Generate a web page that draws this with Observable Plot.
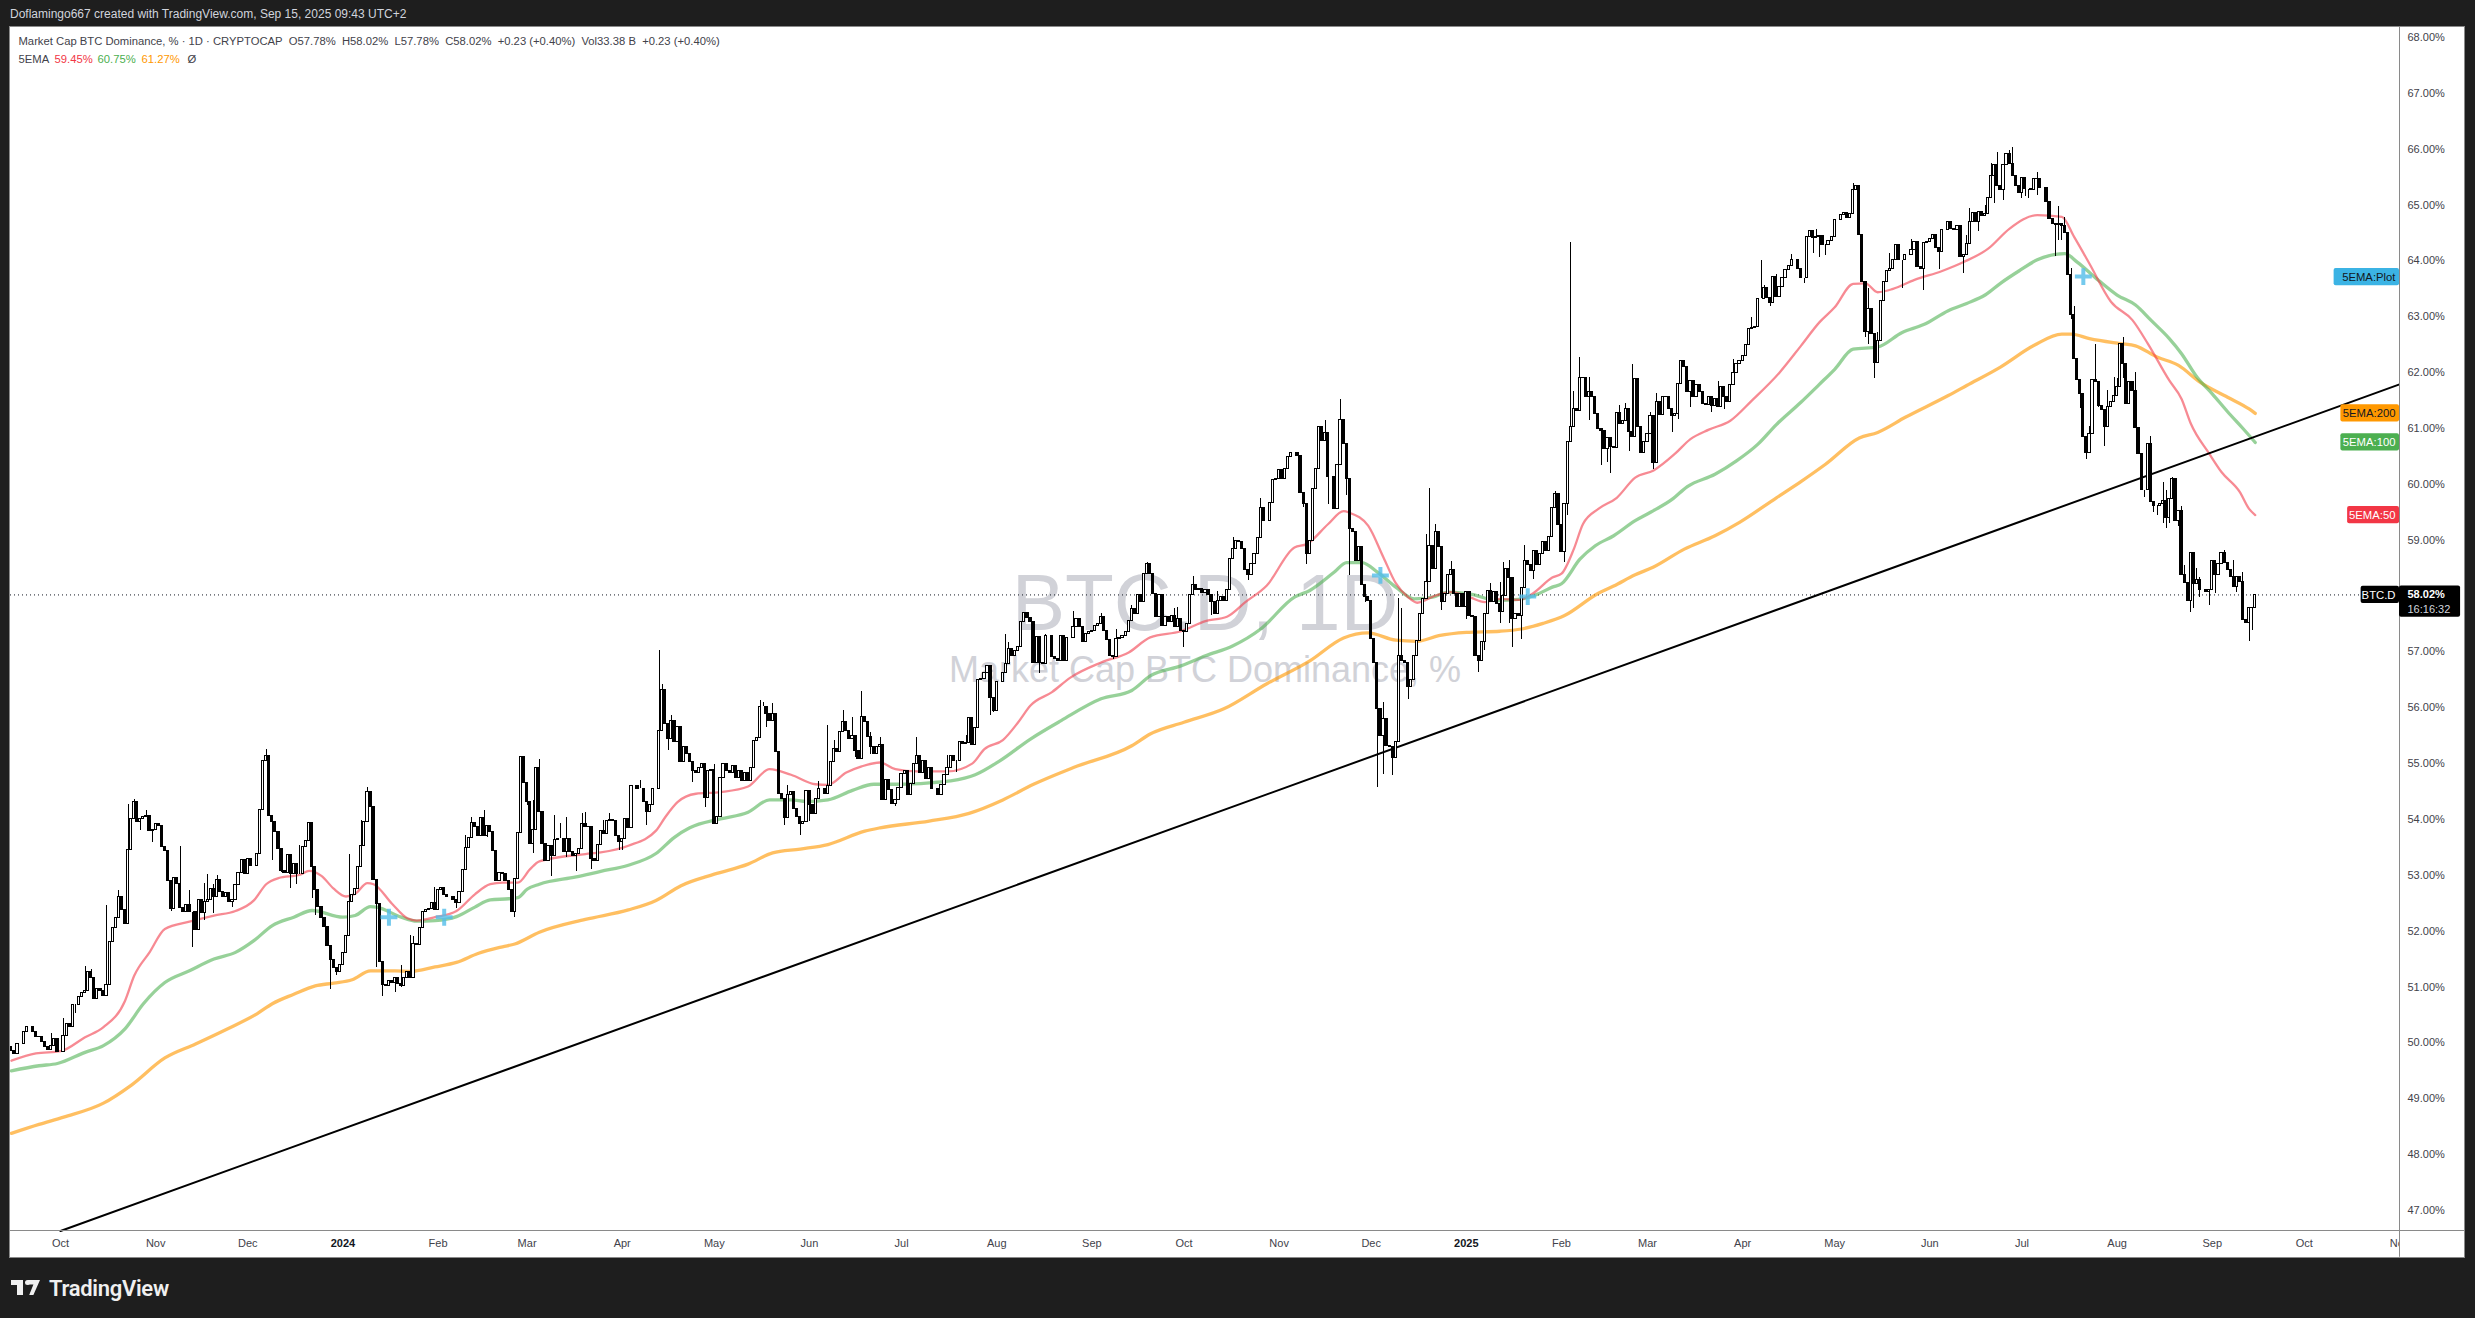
<!DOCTYPE html>
<html><head><meta charset="utf-8">
<style>
html,body{margin:0;padding:0;background:#1e1e1e;width:2475px;height:1318px;overflow:hidden;font-family:"Liberation Sans",Arial,sans-serif}
#head{position:absolute;left:10px;top:7px;color:#d1d4dc;font-size:12px;line-height:14px;white-space:nowrap}
#chart{position:absolute;left:10px;top:27px}
#chart svg{display:block;outline:1px solid #8a8a8a}
#brand{position:absolute;left:49px;top:1277px;color:#f0f0f0;font:600 22px/24px Roboto,"Liberation Sans",sans-serif;letter-spacing:-.3px}
.lg{position:absolute;background:#f0f0f0}
</style></head><body>
<div id="head">Doflamingo667 created with TradingView.com, Sep 15, 2025 09:43 UTC+2</div>
<div id="chart"></div>
<div class="lg" style="left:11px;top:1280px;width:12px;height:5px"></div>
<div class="lg" style="left:17px;top:1280px;width:6px;height:15px"></div>
<div class="lg" style="left:28px;top:1280px;width:12px;height:15px;clip-path:polygon(0 0,100% 0,45% 100%,10% 100%,45% 30%,0 30%)"></div>
<div class="lg" style="left:25px;top:1280px;width:5px;height:5px;border-radius:50%"></div>
<div id="brand">TradingView</div>
<script src="https://cdn.jsdelivr.net/npm/d3@7"></script>
<script src="https://cdn.jsdelivr.net/npm/@observablehq/plot@0.6"></script>
<script>
const closesA=[49.86,49.80,49.98,49.98,50.19,50.28,50.28,50.19,50.11,50.10,50.01,49.92,49.87,49.95,50.07,49.83,49.83,50.13,50.34,50.28,50.68,50.68,50.82,50.90,50.92,51.26,51.17,50.78,50.96,50.93,50.83,51.04,
51.80,52.06,52.24,52.61,52.38,52.12,53.45,54.01,54.31,53.95,54.01,54.04,54.07,53.80,53.81,53.92,53.89,53.51,53.43,52.90,52.40,52.96,52.84,52.41,52.34,52.46,52.34,52.34,52.02,52.55,52.32,52.52,52.56,52.76,52.61,52.92,52.70,52.61,52.68,52.53,52.55,52.83,53.05,53.27,53.02,53.29,53.16,53.16,53.38,54.17,55.05,55.13,54.07,53.95,53.77,53.47,53.08,53.05,53.37,53.02,53.20,53.02,53.02,53.51,53.61,53.93,53.14,52.74,52.44,52.24,52.07,51.74,51.48,51.34,51.26,51.39,51.61,51.92,52.52,52.65,52.76,53.14,53.53,53.95,54.50,54.23,52.92,52.49,51.44,51.04,51.02,51.11,51.08,51.17,51.05,51.01,51.17,51.26,51.17,51.77,51.76,52.06,52.34,52.37,52.40,52.50,52.37,52.74,52.77,52.65,52.61,52.61,52.56,52.50,52.70,53.10,53.49,53.67,53.93,53.86,53.71,54.03,53.71,53.89,53.77,53.44,52.90,53.04];
const closesB=[53.02,52.90,52.74,52.34,52.93,53.75,55.12,54.66,54.31,53.56,53.81,54.92,54.13,53.56,53.26,53.53,53.35,53.63,53.65,53.65,53.41,53.65,53.41,53.35,53.38,53.47,53.91,53.86,53.87,53.29,53.25,53.55,53.79,53.74,53.98,53.99,53.98,53.71,53.59,53.65,54.00,53.85,54.60,54.60,54.55,54.55,54.31,54.13,54.25,54.55,54.55,55.58,56.31,55.71,55.44,55.76,55.38,55.65,55.02,55.29,55.17,55.02,54.86,54.84,54.93,54.99,54.38,54.87,54.89,53.92,54.04,54.75,55.00,54.87,54.84,54.96,54.75,54.87,54.69,54.84,54.68,54.93,55.40,55.46,56.02,56.02,55.89,55.76,55.89,55.20,54.46,54.37,54.03,54.44,54.49,54.19,54.04,53.91,53.95,54.51,54.26,54.10,54.37,54.55,54.55,54.46,54.60,55.02,55.26,55.20,55.56,55.74,55.59,55.44,55.50,55.23,55.08,55.84,55.74,55.47,55.30,55.17,55.30,55.34,54.35,54.71,54.52,54.28,54.34,54.57,54.81,54.87,54.43,54.63,55.00,55.14,54.84,55.05,54.72,54.93,54.55,54.55,54.43,54.61,54.80,54.93,55.14,55.05,55.05,55.38,55.35,55.36,55.82,55.34,55.64,56.50,56.52,56.63,56.75,56.17,55.95,56.46];
const closesC=[56.46,56.63,56.78,57.05,56.93,57.02,57.09,57.53,57.69,57.61,57.53,56.81,57.27,56.81,56.78,57.29,57.29,56.90,56.87,56.84,57.29,56.84,57.25,57.25,57.44,57.59,57.44,57.17,57.32,57.35,57.38,57.47,57.50,57.62,57.37,57.21,56.92,56.90,57.23,57.24,57.29,57.35,57.56,57.77,57.68,58.01,57.89,58.40,58.57,58.40,58.03,57.62,58.01,57.47,57.62,57.53,57.65,57.44,57.59,57.38,57.35,57.50,58.01,58.19,58.10,58.13,58.05,58.10,58.01,57.89,57.68,57.92,57.98,57.92,58.10,58.66,58.84,58.99,58.96,58.84,58.46,58.37,58.57,58.75,59.04,59.58,59.35,59.35,59.66,60.07,60.10,60.25,60.10,60.28,60.49,60.56,60.56,60.51,59.84,59.65,58.75,58.99,59.92,60.28,61.03,60.78,60.92,60.14,60.14,59.56,60.34,61.16,60.72,60.10,59.20,59.14,58.63,58.87,58.19,57.98,57.92,57.23,56.81,55.98,55.50,55.80,55.32,55.29,55.10,55.38,56.93,56.84,56.81,56.37,56.49,56.93,57.19,57.68,57.95,58.25,58.89,58.49,59.14,58.87,57.89,58.04,58.37,58.46,58.04,57.80,58.04,57.80,58.07,57.65,57.62,56.93,56.84,57.17,57.68,58.09,57.89,58.07,57.86,57.71];
const closesD=[58.00,58.48,58.33,57.59,57.68,57.65,58.15,58.63,58.56,58.45,58.81,58.56,58.75,58.96,58.81,59.06,59.57,59.82,59.28,58.78,59.65,60.75,61.03,61.35,61.32,61.90,61.91,61.56,61.65,61.56,61.26,60.99,60.96,60.63,60.83,60.66,60.65,61.27,61.08,61.14,61.35,60.93,60.84,61.88,61.02,60.57,60.75,60.90,61.23,60.39,61.47,61.24,61.57,61.56,61.35,61.23,61.26,61.79,62.21,62.11,61.65,61.85,61.56,61.77,61.66,61.44,61.42,61.56,61.41,61.53,61.39,61.75,61.56,61.47,61.77,61.99,62.15,62.21,62.30,62.50,62.78,62.80,62.81,63.32,63.32,63.51,63.33,63.24,63.72,63.35,63.53,63.69,63.84,63.91,64.02,64.02,63.85,63.69,63.69,64.43,64.54,64.41,64.42,64.45,64.29,64.29,64.36,64.42,
64.73,64.73,64.83,64.86,64.77,64.84,65.27,65.35,64.46,63.62,62.72,63.14,62.69,62.17,62.57,63.29,63.62,63.82,
63.86,64.01,64.28,64.01,64.01,64.10,64.10,64.20,64.34,63.89,63.86,
64.32,64.34,64.40,64.46,64.24,64.16,64.56,64.56,64.70,64.58,64.56,64.62,64.07,64.10,64.31,64.70,64.86,64.70,64.87,64.81,64.84,
65.12,65.52,65.71,65.34,65.27,65.71,65.91,65.74,65.53,65.35,65.21,65.49,65.28,65.28,65.27,65.47,65.46,65.30,65.30,65.06,64.76,64.66,64.64,64.66,64.62,64.50,63.74,
63.03,62.25,61.86,61.62,60.85,60.56,60.91,61.87,61.83,61.41,61.33,61.03,61.39,61.48,61.59,61.74,62.51,62.16,61.43,61.83,61.68,61.01,60.55,59.89,59.89,60.73,59.68,59.62,59.62,59.65,59.71,59.39,59.74,60.10,59.35,59.53,58.37,58.23,57.92,58.77,58.21,58.28,58.11,58.11,58.07,58.11,58.63,58.37,58.58,58.77,58.59,58.46,58.34,58.17,58.34,58.25,57.58,57.52,57.79,57.78,58.02];

const wickHighs=[[13,50.16],[17,50.43],[24,51.36],[26,51.32],[31,52.46],[35,52.73],[38,54.27],[40,54.35],[44,54.16],[55,53.51],[58,52.73],[63,52.86],[64,53.02],[66,52.84],[67,52.99],[74,52.93],[83,55.26],[94,53.53],[110,53.37],[114,53.99],[116,54.58],[118,53.08],[127,51.39],[130,51.92],[131,51.90],[138,52.79],[148,53.71],[150,54.03],[154,54.16],
[170,54.34],[172,55.08],[177,54.07],[179,53.92],[181,54.04],[186,54.11],[187,54.13],[193,53.98],[195,54.11],[202,54.19],[205,54.69],[211,57.03],[212,56.41],[215,55.86],[229,54.98],[244,56.13],[245,56.10],[248,56.07],[253,54.60],[263,54.68],[266,55.68],[268,55.41],[271,55.95],[274,55.83],[277,56.29],[280,55.56],[283,55.46],[295,55.46],[296,55.14],[305,55.14],[311,55.50],
[324,57.32],[325,57.17],[330,57.71],[337,57.32],[346,57.73],[355,57.69],[360,57.41],[365,57.83],[370,58.60],[379,57.77],[380,57.80],[385,58.35],[393,58.09],[398,59.04],[401,58.96],[407,59.74],[420,60.01],[428,61.15],[433,61.52],[447,56.10],[452,57.95],[453,57.77],[461,59.10],[462,59.92],[464,59.29],[469,58.62],[482,58.23],[485,58.25],
[486,58.60],[488,58.64],[493,58.90],[502,59.08],[503,59.88],[508,64.33],[509,61.67],[511,62.27],[514,61.91],[524,61.42],[526,61.45],[528,62.14],[534,61.29],[536,61.62],[549,61.79],[556,61.85],[561,62.24],[567,62.99],[570,64.00],[571,63.56],[575,63.76],[580,64.12],[581,64.02],[588,64.57],[600,65.38],[603,63.85],[605,63.50],[608,62.72],[612,64.13],[619,64.39],
[637,64.46],[638,64.94],[643,65.00],[645,65.74],[647,65.94],[651,65.98],[652,66.04],[660,65.59],[667,64.98],[669,64.78],[671,63.86],[672,63.18],[677,61.03],[679,62.50],[683,61.68],[685,61.92],[686,61.89],[687,62.29],[688,62.63],[692,62.01],[697,60.85],[701,60.04],[702,59.89],[704,60.12],[707,59.61],[708,58.55],[712,58.49],[713,58.34],[721,58.81],[724,58.64],[727,58.43]];

const wickLows=[[21,50.53],[42,53.80],[46,53.59],[52,52.35],[59,51.71],[63,52.19],[66,52.31],[72,52.43],[85,53.26],[88,53.05],[91,52.77],[93,52.84],[98,52.58],[99,52.28],[104,50.95],[106,51.20],[110,52.24],[119,51.35],[121,50.83],[125,50.90],[127,50.99],[145,52.40],[155,53.68],
[164,52.25],[168,54.25],[170,53.39],[176,52.98],[181,53.32],[184,53.07],[189,53.11],[198,53.44],[199,53.44],[207,53.89],[214,55.24],[222,54.66],[226,54.22],[246,55.64],[252,53.89],[257,53.71],[260,53.97],[275,55.11],[280,55.17],[283,54.34],[288,54.23],[308,54.84],[319,55.87],[320,55.92],
[335,56.62],[359,56.87],[382,57.08],[391,57.65],[403,58.28],[421,59.59],[422,58.57],[429,59.64],[431,59.62],[435,59.80],[436,58.37],[441,57.89],[445,54.57],[447,54.81],[450,54.78],[455,56.14],[466,57.74],[474,57.58],[478,56.63],[480,57.02],[485,57.51],
[488,57.50],[489,57.08],[492,57.23],[496,58.30],[506,58.60],[507,59.44],[509,61.14],[514,61.14],[518,60.33],[520,60.39],[521,60.19],[527,60.59],[532,60.75],[535,60.27],[541,60.93],[543,61.17],[547,61.38],[554,61.29],[558,61.34],[573,63.18],[584,63.60],[587,64.14],[589,64.06],[591,64.09],[604,62.63],[605,62.51],[607,61.90],[616,63.50],[623,63.47],[628,63.85],[636,63.77],
[641,64.52],[646,65.03],[649,65.09],[655,65.12],[656,65.15],[657,65.12],[660,65.18],[666,64.08],[667,64.37],[668,64.37],[671,62.95],[674,61.35],[676,60.44],[680,61.38],[682,60.67],[688,61.89],[694,60.43],[695,59.77],[698,59.50],[699,59.44],[701,59.30],[702,59.21],[703,59.30],[706,59.24],[710,57.70],[711,57.77],[713,57.98],[716,57.83],[718,58.04],[725,58.07],[729,57.18],[730,57.39]];

const ema50=[[0,49.68],[8,49.81],[16,49.85],[24,50.10],[30,50.28],[37,50.75],[40,51.20],[45,51.62],[50,52.04],[58,52.17],[66,52.28],[73,52.36],[79,52.55],[83,52.84],[87,52.95],[94,53.01],[97,53.08],[101,52.99],[105,52.76],[109,52.62],[112,52.67],[116,52.86],[118,52.84],[124,52.49],[129,52.23],[132,52.19],[138,52.25],[145,52.36],[151,52.66],[156,52.84],[160,52.87],[165,52.87],[169,53.11],[172,53.25],[187,53.38],[192,53.41],[201,53.53],[210,53.80],[213,54.04],[217,54.31],[223,54.46],[231,54.49],[240,54.59],[247,54.90],[254,54.80],[262,54.63],[266,54.62],[272,54.84],[277,54.95],[283,55.02],[288,54.90],[295,54.86],[305,54.86],[313,55.00],[317,55.26],[323,55.42],[328,55.74],[332,56.04],[339,56.28],[345,56.54],[355,56.81],[364,56.99],[371,57.26],[381,57.37],[389,57.55],[396,57.63],[402,57.89],[409,58.19],[418,58.87],[422,58.93],[429,59.29],[434,59.52],[436,59.49],[442,59.26],[447,58.69],[451,58.23],[455,57.98],[458,57.88],[464,58.01],[469,58.07],[475,57.98],[480,57.89],[485,57.95],[491,57.93],[496,58.06],[502,58.33],[505,58.40],[509,58.84],[512,59.29],[517,59.56],[523,59.76],[529,60.12],[535,60.25],[542,60.55],[547,60.81],[553,60.98],[560,61.14],[567,61.50],[576,62.00],[583,62.48],[589,62.90],[594,63.17],[600,63.59],[604,63.60],[608,63.44],[613,63.50],[620,63.66],[629,63.82],[636,63.98],[644,64.22],[651,64.58],[660,64.82],[668,64.79],[672,64.43],[677,63.95],[684,63.27],[691,62.94],[696,62.52],[703,61.86],[707,61.53],[710,61.09],[716,60.55],[720,60.22],[726,59.86],[729,59.56],[731,59.45]];
const ema100=[[0,49.50],[9,49.59],[15,49.63],[24,49.83],[30,49.95],[37,50.25],[43,50.70],[50,51.08],[58,51.29],[66,51.50],[73,51.62],[79,51.83],[85,52.10],[92,52.25],[98,52.37],[108,52.25],[112,52.28],[117,52.44],[119,52.43],[127,52.25],[132,52.18],[138,52.19],[145,52.26],[151,52.43],[156,52.56],[162,52.58],[165,52.60],[168,52.75],[172,52.84],[184,52.97],[192,53.07],[201,53.18],[210,53.39],[216,53.68],[221,53.85],[231,54.01],[240,54.13],[247,54.35],[254,54.35],[259,54.32],[266,54.35],[274,54.52],[281,54.63],[290,54.63],[300,54.66],[306,54.69],[314,54.80],[322,55.05],[332,55.44],[342,55.77],[355,56.16],[365,56.31],[371,56.57],[381,56.75],[389,56.93],[398,57.11],[407,57.41],[418,57.98],[423,58.10],[431,58.43],[435,58.60],[440,58.60],[445,58.43],[451,58.16],[457,57.95],[463,57.98],[468,58.07],[475,58.04],[484,57.92],[491,57.94],[497,58.03],[502,58.16],[505,58.22],[511,58.66],[516,58.90],[522,59.08],[529,59.35],[534,59.50],[541,59.73],[546,59.96],[555,60.18],[562,60.42],[569,60.72],[575,61.07],[583,61.47],[589,61.79],[594,62.06],[600,62.42],[608,62.46],[616,62.72],[623,62.86],[631,63.11],[637,63.24],[643,63.39],[648,63.60],[654,63.82],[660,64.02],[669,64.13],[673,63.98],[680,63.65],[686,63.39],[692,63.21],[697,62.94],[703,62.61],[707,62.34],[712,61.92],[717,61.62],[722,61.30],[727,61.00],[731,60.75]];
const ema200=[[0,48.38],[9,48.54],[17,48.67],[30,48.92],[39,49.24],[50,49.73],[60,49.98],[70,50.24],[80,50.52],[85,50.70],[92,50.87],[99,51.02],[105,51.07],[111,51.13],[117,51.29],[125,51.29],[130,51.28],[138,51.36],[145,51.44],[152,51.60],[160,51.72],[164,51.77],[172,51.98],[187,52.21],[201,52.38],[210,52.55],[218,52.81],[229,53.02],[240,53.20],[248,53.40],[257,53.47],[266,53.55],[278,53.79],[283,53.85],[299,53.97],[312,54.11],[323,54.35],[333,54.63],[346,54.93],[365,55.32],[371,55.53],[382,55.74],[395,55.98],[409,56.43],[423,56.84],[434,57.25],[442,57.34],[451,57.21],[458,57.19],[465,57.29],[474,57.35],[485,57.37],[492,57.41],[499,57.51],[506,57.65],[517,58.05],[522,58.18],[529,58.38],[535,58.52],[545,58.84],[555,59.08],[563,59.32],[575,59.76],[583,60.05],[591,60.36],[602,60.83],[608,60.93],[617,61.20],[631,61.59],[637,61.77],[648,62.10],[659,62.49],[668,62.69],[671,62.69],[677,62.61],[687,62.52],[692,62.48],[699,62.28],[706,62.13],[713,61.83],[722,61.56],[729,61.35],[731,61.27]];
const crossDates=["2024-01-16","2024-02-03","2024-12-04","2025-01-21","2025-07-21"];
const crossValues=[52.25,52.25,58.37,57.99,63.72];
const trendDates=["2023-10-01","2025-11-01"];
const trendValues=[46.63,61.79];
const monthTicks=["2023-10-01","2023-11-01","2023-12-01","2024-02-01","2024-03-01","2024-04-01","2024-05-01","2024-06-01","2024-07-01","2024-08-01","2024-09-01","2024-10-01","2024-11-01","2024-12-01","2025-02-01","2025-03-01","2025-04-01","2025-05-01","2025-06-01","2025-07-01","2025-08-01","2025-09-01","2025-10-01","2025-11-01"];
const yearTicks=["2024-01-01","2025-01-01"];
const priceTicks=d3.range(47,69);
const tagNames=["5EMA:Plot","5EMA:200","5EMA:100","5EMA:50","BTC.D"];
const tagValues=[63.71,61.27,60.75,59.45,58.02];
const tagColors=["#3bb3e4","#ff9800","#4caf50","#f23645","#000000"];
const tagInks=["#131722","#131722","#ffffff","#ffffff","#ffffff"];
const title1="Market Cap BTC Dominance, % · 1D · CRYPTOCAP\u00a0\u00a0O57.78%\u00a0\u00a0H58.02%\u00a0\u00a0L57.78%\u00a0\u00a0C58.02%\u00a0\u00a0+0.23 (+0.40%)\u00a0\u00a0Vol33.38 B\u00a0\u00a0+0.23 (+0.40%)";
const legendNames=["5EMA","59.45%","60.75%","61.27%","Ø"];
const legendInks=["#42424a","#f23645","#4caf50","#ff9800","#42424a"];

const DAY=864e5;
const utc=s=>new Date(s+"T00:00:00Z");
const start=utc("2023-09-15");
const dayOf=i=>new Date(+start+i*DAY);
const closes=[...closesA,...closesB,...closesC,...closesD];
const hi=new Map(wickHighs), lo=new Map(wickLows);
const candles=closes.map((c,i)=>{
  const o=i?closes[i-1]:c+0.06;
  return {d:dayOf(i),o,c,h:Math.max(o,c,hi.get(i)??-1),l:Math.min(o,c,lo.get(i)??99),up:c>=o};
});
const emaRows=a=>a.map(([i,v])=>({d:dayOf(i),v}));
const leftEdge=new Date(+utc("2023-10-01")-16.29*DAY), rightEdge=utc("2025-11-01");
const farRight=new Date(+rightEdge+21.2*DAY);
const yTop=68.18,yBottom=46.64,yFloor=46.16;
const tags=tagNames.map((n,i)=>({n,v:tagValues[i],c:tagColors[i],ink:tagInks[i],x1:new Date(+rightEdge-(2.2*n.length+1.5)*DAY)}));
const font="Liberation Sans";
const legendGaps=[8,44,87,131,177];
const chart=Plot.plot({
  width:2454,height:1230,marginLeft:0,marginRight:65,marginTop:0,marginBottom:27,
  style:{background:"#ffffff",fontFamily:font},
  x:{type:"utc",domain:[leftEdge,rightEdge],label:null},
  y:{domain:[yBottom,yTop],label:null},
  marks:[
    Plot.text(["BTC.D, 1D"],{frameAnchor:"middle",dy:-25,text:d=>d,fontSize:80,fill:"#d1d2d8",fontFamily:font}),
    Plot.text(["Market Cap BTC Dominance, %"],{frameAnchor:"middle",dy:41,text:d=>d,fontSize:36,fill:"#d1d2d8",fontFamily:font}),
    Plot.ruleY([58.02],{x1:leftEdge,x2:tags[4].x1,stroke:"#131722",strokeWidth:1,strokeDasharray:"1,3"}),
    Plot.line(emaRows(ema200),{x:"d",y:"v",stroke:"#ff9800",strokeOpacity:.62,strokeWidth:3.3,curve:"monotone-x"}),
    Plot.line(emaRows(ema100),{x:"d",y:"v",stroke:"#4caf50",strokeOpacity:.58,strokeWidth:3.3,curve:"monotone-x"}),
    Plot.line(emaRows(ema50),{x:"d",y:"v",stroke:"#f23645",strokeOpacity:.58,strokeWidth:2.3,curve:"monotone-x"}),
    Plot.line(trendDates.map((d,i)=>({d:utc(d),v:trendValues[i]})),{x:"d",y:"v",stroke:"#000000",strokeWidth:2}),
    Plot.ruleX(candles,{x:"d",y1:"l",y2:"h",stroke:"#000000",strokeWidth:1,shapeRendering:"crispEdges"}),
    Plot.rect(candles,{x1:d=>new Date(+d.d-.36*DAY),x2:d=>new Date(+d.d+.36*DAY),y1:"o",y2:"c",fill:d=>d.up?"#ffffff":"#000000",stroke:"#000000",strokeWidth:1,shapeRendering:"crispEdges"}),
    Plot.dot(crossDates.map((d,i)=>({d:utc(d),v:crossValues[i]})),{x:"d",y:"v",symbol:"plus",r:5.5,stroke:"#52bde8",strokeOpacity:.8,strokeWidth:4}),
    Plot.axisX(monthTicks.map(utc),{anchor:"bottom",tickSize:0,tickPadding:9,fontSize:11,fill:"#42424a",tickFormat:d3.utcFormat("%b"),label:null,fontFamily:font}),
    Plot.axisX(yearTicks.map(utc),{anchor:"bottom",tickSize:0,tickPadding:9,fontSize:11,fill:"#131722",fontWeight:"bold",tickFormat:d3.utcFormat("%Y"),label:null,fontFamily:font}),
    Plot.rect([0],{x1:rightEdge,x2:farRight,y1:yFloor,y2:yTop,fill:"#ffffff"}),
    Plot.ruleY([yBottom],{x1:leftEdge,x2:farRight,stroke:"#8a8a8a",strokeWidth:1}),
    Plot.ruleX([rightEdge],{y1:yFloor,y2:yTop,stroke:"#8a8a8a",strokeWidth:1}),
    Plot.axisY(priceTicks,{anchor:"right",tickSize:0,tickPadding:8,fontSize:11,fill:"#42424a",tickFormat:d=>d.toFixed(2)+"%",label:null,fontFamily:font}),
    Plot.rect(tags,{x1:"x1",x2:rightEdge,y1:d=>d.v-.155,y2:d=>d.v+.155,fill:"c",rx:2}),
    Plot.text(tags,{x:rightEdge,y:"v",text:"n",fill:"ink",textAnchor:"end",dx:-4,fontSize:11.3,fontFamily:font}),
    Plot.rect([58.02],{x1:rightEdge,x2:new Date(+rightEdge+19.9*DAY),y1:d=>d+.16,y2:d=>d-.4,fill:"#000000",rx:2}),
    Plot.text(["58.02%"],{x:rightEdge,y:58.02,text:d=>d,fill:"#ffffff",fontWeight:"bold",textAnchor:"start",dx:8,fontSize:11,fontFamily:font}),
    Plot.text(["16:16:32"],{x:rightEdge,y:57.76,text:d=>d,fill:"#d1d4dc",textAnchor:"start",dx:8,fontSize:11,fontFamily:font}),
    Plot.text([title1],{frameAnchor:"top-left",dx:8,dy:14,text:d=>d,fill:"#42424a",fontSize:11.25,textAnchor:"start",fontFamily:font,lineAnchor:"middle"}),
    ...legendNames.map((n,i)=>Plot.text([n],{frameAnchor:"top-left",dx:legendGaps[i],dy:32,text:d=>d,fill:legendInks[i],fontSize:11.25,textAnchor:"start",fontFamily:font,lineAnchor:"middle"}))
  ]
});
document.getElementById("chart").appendChild(chart);
</script>
</body></html>
